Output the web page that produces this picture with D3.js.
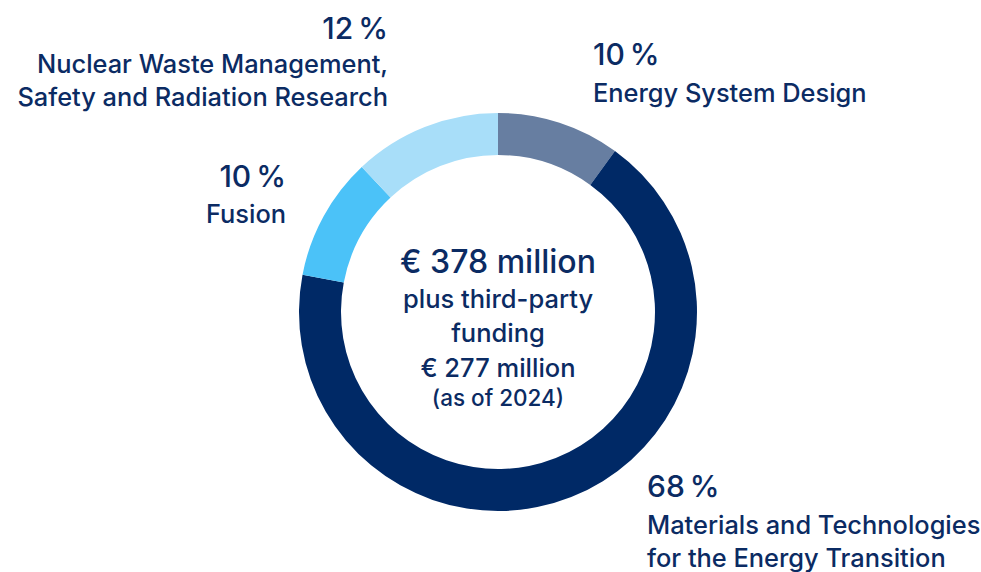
<!DOCTYPE html>
<html>
<head>
<meta charset="utf-8">
<script src="https://cdn.jsdelivr.net/npm/d3@7"></script>
<style>
  body { margin: 0; background: #fff; }
  text { font-family: Inter, "Noto Sans", sans-serif; fill: #0b2b63; font-weight: 500; }
</style>
</head>
<body>
<script>
// data
var categories = ["Energy System Design", "Materials and Technologies for the Energy Transition", "Fusion", "Nuclear Waste Management, Safety and Radiation Research"];
var shares = [10, 68, 10, 12];
var colors = ["#677ea1", "#002966", "#4bc2f8", "#a8def9"];
var centerLines = ["€ 378 million", "plus third-party", "funding", "€ 277 million", "(as of 2024)"];

var width = 981, height = 572;
var cx = 498, cy = 312, outerR = 199, innerR = 157;

var svg = d3.select("body").append("svg")
    .attr("width", width)
    .attr("height", height);

var pie = d3.pie().sort(null).value(function(d) { return d; });
var arc = d3.arc().innerRadius(innerR).outerRadius(outerR);

var g = svg.append("g")
    .attr("transform", "translate(" + cx + "," + cy + ")");

g.selectAll("path")
  .data(pie(shares))
  .enter().append("path")
    .attr("d", arc)
    .attr("fill", function(d, i) { return colors[i]; });

// center text
var centerY = [273, 308, 342, 377, 406];
var centerSize = [32, 25.5, 25.5, 25.5, 22.5];
svg.selectAll(".center")
  .data(centerLines)
  .enter().append("text")
    .attr("class", "center")
    .attr("x", cx)
    .attr("y", function(d, i) { return centerY[i]; })
    .attr("text-anchor", "middle")
    .style("font-size", function(d, i) { return centerSize[i] + "px"; })
    .text(function(d) { return d; });

// labels for each slice
var labels = [
  {x: 593, y: 65, gap: 37, anchor: "start", lines: ["Energy System Design"]},
  {x: 647, y: 497, gap: 37, anchor: "start", lines: ["Materials and Technologies", "for the Energy Transition"]},
  {x: 286, y: 187, gap: 36, anchor: "end", lines: ["Fusion"]},
  {x: 388, y: 39, gap: 34, anchor: "end", lines: ["Nuclear Waste Management,", "Safety and Radiation Research"]}
];

labels.forEach(function(l, i) {
  var t = svg.append("g");
  t.append("text")
    .attr("x", l.x).attr("y", l.y)
    .attr("text-anchor", l.anchor)
    .style("font-size", "30px")
    .style("word-spacing", "-3px")
    .text(shares[i] + " %");
  l.lines.forEach(function(line, j) {
    t.append("text")
      .attr("x", l.x).attr("y", l.y + l.gap + j * 33)
      .attr("text-anchor", l.anchor)
      .style("font-size", "25.4px")
      .text(line);
  });
});
</script>
</body>
</html>
